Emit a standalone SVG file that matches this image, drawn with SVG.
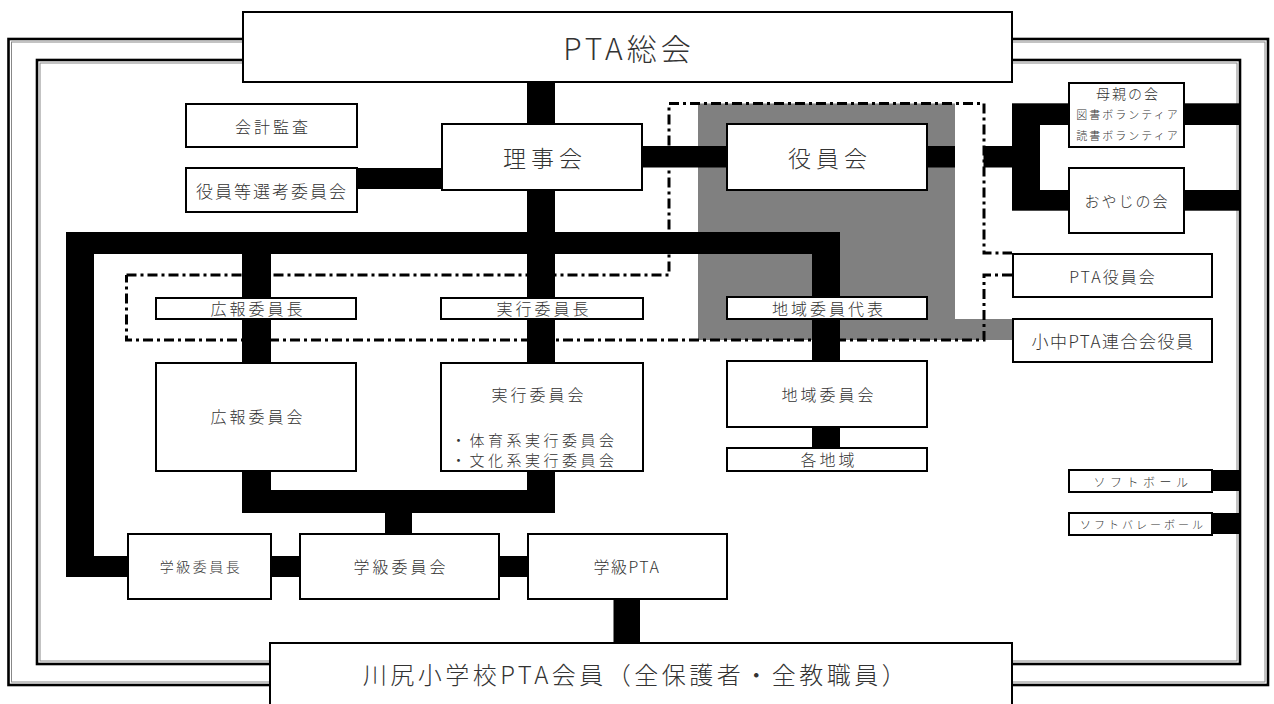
<svg xmlns="http://www.w3.org/2000/svg" width="1274" height="704" viewBox="0 0 1274 704">
<style>
.bx{fill:#fff;stroke:#000;stroke-width:2}
.t{font-family:"Noto Sans CJK JP","Liberation Sans",sans-serif;font-weight:300;fill:#333;text-anchor:middle;dominant-baseline:central}
.s{text-anchor:start}
.c{fill:#000}
.dd{fill:none;stroke:#000;stroke-width:3;stroke-dasharray:10 4 3 4}
</style>
<rect width="1274" height="704" fill="#fff"/>
<g id="frames">
<rect x="8.5" y="39" width="1259.5" height="646" fill="none" stroke="#000" stroke-width="2.6"/>
<rect x="11.5" y="42" width="1253.5" height="640" fill="none" stroke="#888" stroke-width="1"/>
<rect x="37" y="60" width="1203" height="604" fill="none" stroke="#000" stroke-width="2.6"/>
<rect x="40" y="63" width="1197" height="598" fill="none" stroke="#888" stroke-width="1"/>
</g>
<polygon id="officer-area" points="698,103.5 955,103.5 955,319 1012,319 1012,340 698,340" fill="#808080"/>
<g id="dashed-groups">
<path class="dd" d="M126.5,275 H669 V103.5 H984 V253 H1012"/>
<path class="dd" d="M1012,275 H984 V340 H126.5 V275"/>
</g>
<g id="connectors" class="c">
<rect x="527" y="82" width="28" height="42"/>
<rect x="527" y="190" width="28" height="173"/>
<rect x="642" y="146" width="85" height="21.5"/>
<rect x="927" y="146" width="28" height="21.5"/>
<rect x="983.5" y="146" width="28.5" height="21.5"/>
<rect x="1012" y="103.3" width="28" height="107.4"/>
<rect x="1040" y="103.3" width="29" height="21.7"/>
<rect x="1040" y="190" width="29" height="20.7"/>
<rect x="1184" y="103.3" width="56" height="21.7"/>
<rect x="1184" y="190" width="56" height="20.7"/>
<rect x="357" y="168" width="85" height="21"/>
<rect x="66" y="232" width="774" height="22"/>
<rect x="812" y="232" width="28" height="216"/>
<rect x="242" y="254" width="29" height="109"/>
<rect x="66" y="232" width="28" height="345"/>
<rect x="66" y="556" width="62" height="21"/>
<rect x="242" y="470" width="29" height="43"/>
<rect x="527" y="470" width="28" height="43"/>
<rect x="242" y="490" width="313" height="23"/>
<rect x="385" y="513" width="27" height="21"/>
<rect x="270" y="556" width="30" height="21"/>
<rect x="499" y="556" width="29" height="21"/>
<rect x="613.5" y="599" width="26.5" height="44"/>
<rect x="1212" y="470" width="28" height="21"/>
<rect x="1212" y="513" width="28" height="21"/>
</g>
<g id="n-soukai"><rect class="bx" x="243" y="12" width="769" height="70"/><text class="t" x="629" y="47" font-size="30" letter-spacing="4">PTA総会</text></g>
<g id="n-kaikei"><rect class="bx" x="186" y="104" width="171" height="43"/><text class="t" x="273" y="126" font-size="16" letter-spacing="3">会計監査</text></g>
<g id="n-senkou"><rect class="bx" x="186" y="168" width="171" height="44"/><text class="t" x="272" y="190" font-size="17" letter-spacing="2">役員等選考委員会</text></g>
<g id="n-rijikai"><rect class="bx" x="442" y="124" width="200" height="66"/><text class="t" x="545" y="157" font-size="23" letter-spacing="5">理事会</text></g>
<g id="n-yakuinkai"><rect class="bx" x="727" y="124" width="200" height="66"/><text class="t" x="830" y="157" font-size="23" letter-spacing="5">役員会</text></g>
<g id="n-hahaoya"><rect class="bx" x="1069" y="83" width="115" height="64"/>
<text class="t" x="1128" y="93" font-size="14" letter-spacing="2">母親の会</text>
<text class="t" x="1128" y="113.5" font-size="11" letter-spacing="2">図書ボランティア</text>
<text class="t" x="1128" y="135" font-size="11" letter-spacing="2">読書ボランティア</text></g>
<g id="n-oyaji"><rect class="bx" x="1069" y="168" width="115" height="65"/><text class="t" x="1127" y="200" font-size="15" letter-spacing="2">おやじの会</text></g>
<g id="n-pta-yakuin"><rect class="bx" x="1013" y="254" width="199" height="43"/><text class="t" x="1113" y="276" font-size="16" letter-spacing="2">PTA役員会</text></g>
<g id="n-shochu"><rect class="bx" x="1013" y="319" width="199" height="43"/><text class="t" x="1113" y="340" font-size="17" letter-spacing="1.5">小中PTA連合会役員</text></g>
<g id="n-kouhou-chou"><rect class="bx" x="156" y="298" width="200" height="21"/><text class="t" x="258" y="308" font-size="16" letter-spacing="3">広報委員長</text></g>
<g id="n-jikkou-chou"><rect class="bx" x="441" y="298" width="202" height="21"/><text class="t" x="544" y="308" font-size="16" letter-spacing="3">実行委員長</text></g>
<g id="n-chiiki-daihyou"><rect class="bx" x="727" y="297" width="200" height="22"/><text class="t" x="829" y="308" font-size="16" letter-spacing="3">地域委員代表</text></g>
<g id="n-kouhou"><rect class="bx" x="156" y="363" width="200" height="108"/><text class="t" x="258" y="416" font-size="16" letter-spacing="3">広報委員会</text></g>
<g id="n-jikkou"><rect class="bx" x="441" y="363" width="202" height="108"/>
<text class="t" x="539" y="394" font-size="16" letter-spacing="3">実行委員会</text>
<text class="t s" x="451" y="439" font-size="15" letter-spacing="3.5">・体育系実行委員会</text>
<text class="t s" x="451" y="459.5" font-size="15" letter-spacing="3.5">・文化系実行委員会</text></g>
<g id="n-chiiki"><rect class="bx" x="727" y="361" width="200" height="66"/><text class="t" x="829" y="394" font-size="16" letter-spacing="3">地域委員会</text></g>
<g id="n-kakuchiiki"><rect class="bx" x="727" y="448" width="200" height="23"/><text class="t" x="829" y="459" font-size="16" letter-spacing="3">各地域</text></g>
<g id="n-softball"><rect class="bx" x="1069" y="470" width="143" height="22"/><text class="t" x="1143" y="481" font-size="12" letter-spacing="4.5">ソフトボール</text></g>
<g id="n-softvolley"><rect class="bx" x="1069" y="513" width="143" height="22"/><text class="t" x="1143" y="523.5" font-size="11" letter-spacing="3">ソフトバレーボール</text></g>
<g id="n-gakkyu-chou"><rect class="bx" x="128" y="534" width="143" height="65"/><text class="t" x="201" y="566" font-size="14" letter-spacing="2.5">学級委員長</text></g>
<g id="n-gakkyu"><rect class="bx" x="300" y="534" width="199" height="65"/><text class="t" x="401" y="566" font-size="16" letter-spacing="3">学級委員会</text></g>
<g id="n-gakkyu-pta"><rect class="bx" x="528" y="534" width="199" height="65"/><text class="t" x="627" y="566" font-size="16" letter-spacing="1.5">学級PTA</text></g>
<g id="n-members"><rect class="bx" x="270" y="643" width="742" height="70"/><text class="t" x="636" y="673" font-size="24" letter-spacing="3.5">川尻小学校PTA会員（全保護者・全教職員）</text></g>
</svg>
